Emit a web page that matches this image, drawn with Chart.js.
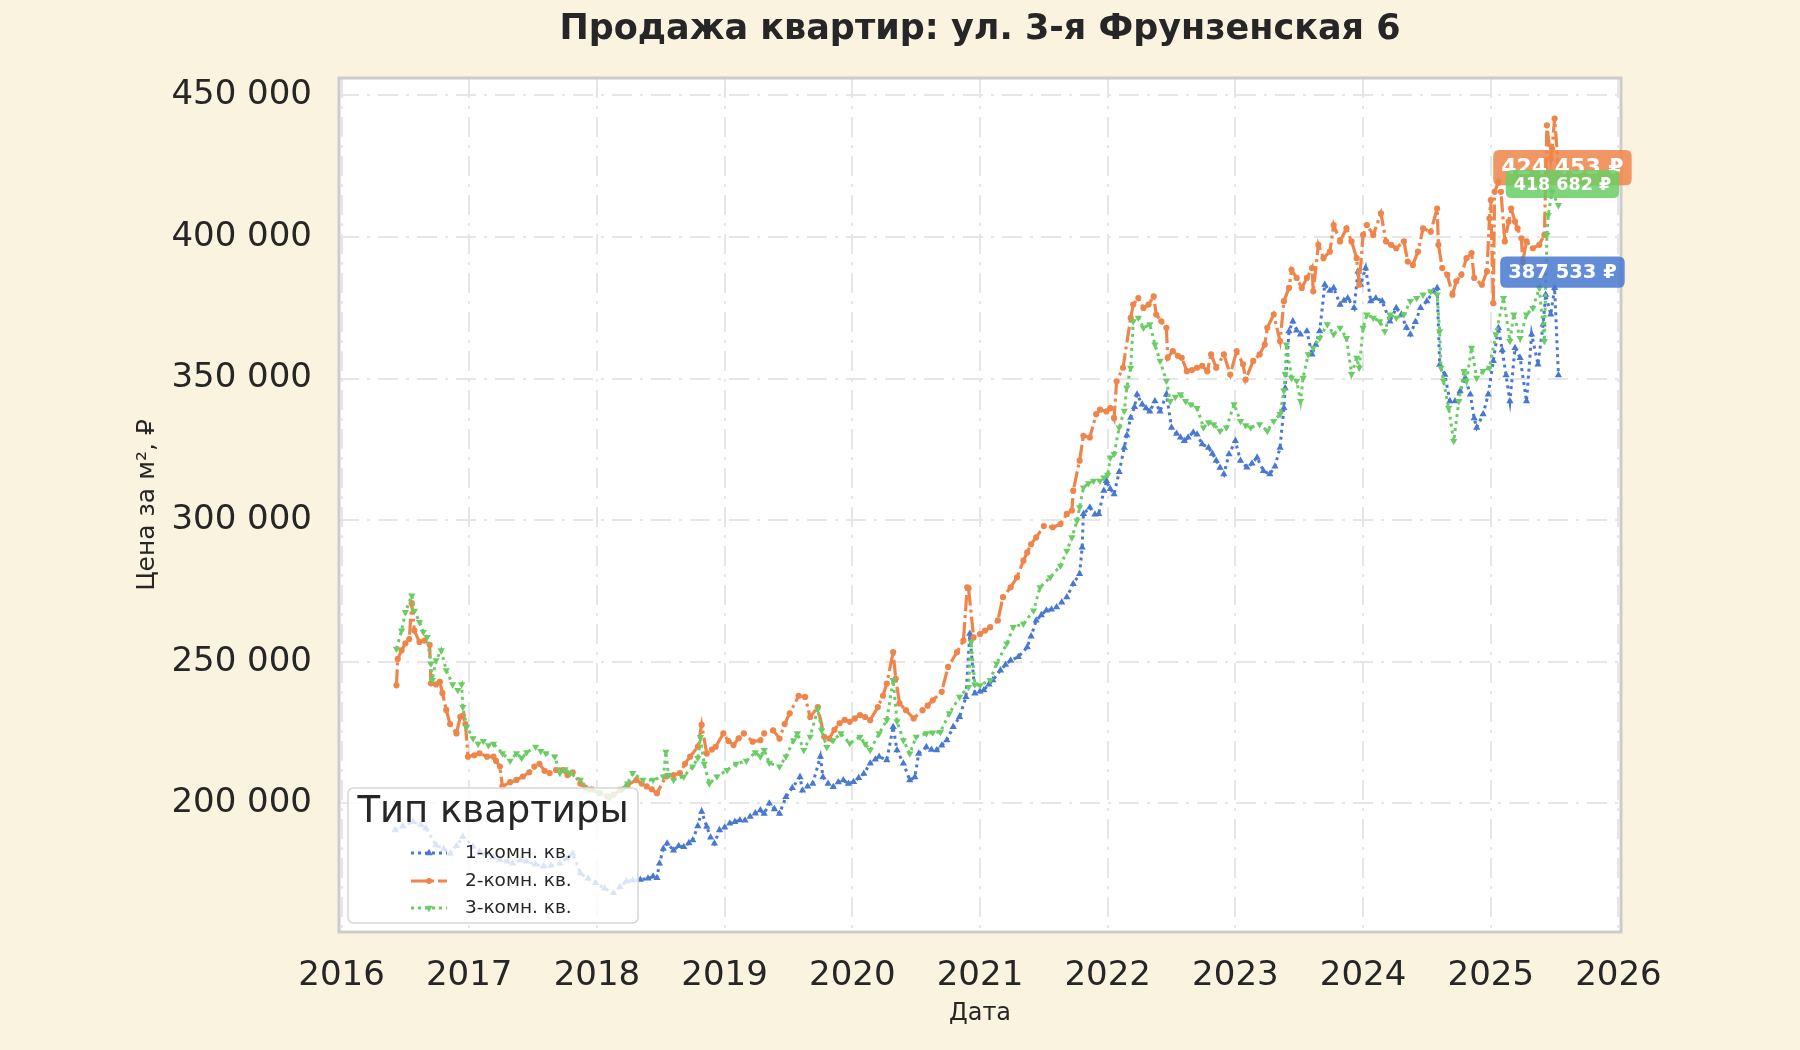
<!DOCTYPE html>
<html lang="ru">
<head>
    <meta charset="UTF-8">
    <title>Продажа квартир</title>
    <script src="https://cdn.jsdelivr.net/npm/chart.js"></script>
    <style>
        html, body { margin: 0; padding: 0; background: #faf3e0; }
        #wrap { width: 1800px; height: 1050px; }
    </style>
</head>
<body>
<div id="wrap"><canvas id="myChart" width="1800" height="1050"></canvas></div>
<script>
    // Значения (цена за м2 в тыс. руб.), даты как доли года
    const seriesNames = ['1-комн. кв.', '2-комн. кв.', '3-комн. кв.'];
    const seriesColors = ['#4878d0', '#ee854a', '#6acc64'];
    const lastLabelValues = [387533, 424453, 418682];
    const yearTicks = [2016, 2017, 2018, 2019, 2020, 2021, 2022, 2023, 2024, 2025, 2026];
    const priceTicks = [200, 250, 300, 350, 400, 450];

    const oneRoomYears = [
        2016.42, 2016.48, 2016.56, 2016.62, 2016.66, 2016.74, 2016.80, 2016.85, 2016.90, 2016.95,
        2017.03, 2017.08, 2017.13, 2017.19, 2017.24, 2017.30, 2017.34, 2017.40, 2017.45, 2017.52,
        2017.58, 2017.64, 2017.71, 2017.76, 2017.81, 2017.87, 2017.93, 2017.99, 2018.06, 2018.13,
        2018.18, 2018.23, 2018.28, 2018.34, 2018.40, 2018.44, 2018.47, 2018.49, 2018.52, 2018.55,
        2018.60, 2018.64, 2018.68, 2018.72, 2018.75, 2018.79, 2018.82, 2018.86, 2018.89, 2018.92,
        2018.96, 2019.00, 2019.04, 2019.08, 2019.12, 2019.16, 2019.20, 2019.24, 2019.28, 2019.31,
        2019.35, 2019.39, 2019.43, 2019.48, 2019.53, 2019.59, 2019.61, 2019.65, 2019.69, 2019.75,
        2019.77, 2019.81, 2019.85, 2019.89, 2019.93, 2019.97, 2020.01, 2020.05, 2020.09, 2020.14,
        2020.18, 2020.21, 2020.27, 2020.32, 2020.35, 2020.40, 2020.45, 2020.49, 2020.52, 2020.58,
        2020.62, 2020.66, 2020.70, 2020.74, 2020.79, 2020.84, 2020.89, 2020.92, 2020.96, 2021.00,
        2021.03, 2021.07, 2021.10, 2021.16, 2021.20, 2021.24, 2021.30, 2021.37, 2021.40, 2021.44,
        2021.48, 2021.52, 2021.56, 2021.60, 2021.64, 2021.68, 2021.73, 2021.78, 2021.80, 2021.81,
        2021.86, 2021.90, 2021.93, 2021.97, 2021.99, 2022.02, 2022.05, 2022.09, 2022.13, 2022.15,
        2022.18, 2022.21, 2022.23, 2022.27, 2022.30, 2022.33, 2022.37, 2022.41, 2022.46, 2022.50,
        2022.54, 2022.57, 2022.60, 2022.63, 2022.67, 2022.70, 2022.74, 2022.79, 2022.82, 2022.85,
        2022.88, 2022.91, 2022.95, 2023.00, 2023.04, 2023.09, 2023.13, 2023.17, 2023.22, 2023.27,
        2023.31, 2023.35, 2023.38, 2023.39, 2023.42, 2023.45, 2023.48, 2023.51, 2023.56, 2023.60,
        2023.63, 2023.66, 2023.70, 2023.74, 2023.77, 2023.82, 2023.85, 2023.88, 2023.93, 2023.96,
        2023.98, 2024.02, 2024.06, 2024.10, 2024.15, 2024.21, 2024.26, 2024.30, 2024.34, 2024.37,
        2024.41, 2024.45, 2024.50, 2024.55, 2024.58, 2024.60, 2024.64, 2024.68, 2024.72, 2024.76,
        2024.80, 2024.84, 2024.87, 2024.89, 2024.94, 2024.98, 2025.02, 2025.06, 2025.09, 2025.12,
        2025.15, 2025.19, 2025.23, 2025.28, 2025.32, 2025.37, 2025.41, 2025.43, 2025.47, 2025.50,
        2025.53
    ];
    const oneRoomPrices = [
        190.6, 192.0, 193.5, 192.5, 191.3, 185.3, 184.0, 182.3, 185.0, 188.3,
        184.8, 183.0, 182.3, 181.0, 180.1, 179.5, 178.8, 180.0, 179.5, 178.5,
        177.8, 178.0, 178.8, 180.5, 182.3, 175.4, 173.5, 171.9, 170.0, 168.4,
        170.5, 172.5, 172.8, 173.1, 173.5, 174.2, 173.7, 178.8, 184.0, 185.9,
        183.4, 185.0, 184.6, 186.0, 187.0, 192.0, 197.1, 191.8, 188.0, 185.9,
        190.6, 191.5, 192.9, 193.5, 194.1, 194.0, 195.3, 196.5, 197.6, 196.4,
        200.0, 198.0, 196.4, 202.3, 205.5, 209.3, 204.6, 206.0, 207.0, 216.5,
        209.3, 207.0, 205.8, 207.5, 208.2, 207.0, 207.6, 209.0, 210.5, 214.1,
        215.5, 216.5, 215.3, 227.0, 218.8, 214.1, 208.2, 209.3, 217.6, 219.9,
        219.0, 218.8, 220.5, 222.3, 227.0, 230.5, 237.6, 259.9, 238.8, 239.5,
        240.0, 242.0, 243.5, 247.0, 249.0, 250.5, 251.7, 255.2, 259.0, 264.6,
        266.5, 268.1, 268.5, 269.3, 271.0, 272.8, 277.5, 281.0, 290.4, 302.2,
        304.5, 302.0, 302.2, 310.4, 313.9, 311.0, 309.2, 317.0, 325.6, 330.0,
        336.2, 340.0, 344.4, 340.9, 339.5, 338.4, 342.0, 338.4, 344.4, 332.7,
        330.5, 329.2, 328.0, 329.2, 331.0, 330.3, 326.8, 325.6, 323.5, 321.0,
        318.5, 316.2, 323.3, 328.0, 321.0, 318.6, 320.0, 322.1, 317.4, 316.2,
        319.0, 325.6, 339.6, 346.6, 366.7, 370.2, 367.0, 365.6, 366.7, 358.5,
        362.0, 366.7, 383.1, 381.0, 382.0, 376.1, 377.5, 378.4, 374.9, 387.8,
        383.1, 389.0, 377.3, 378.4, 377.3, 370.2, 374.9, 372.6, 368.0, 365.6,
        370.0, 374.9, 377.3, 380.8, 382.0, 354.9, 351.4, 342.0, 342.0, 345.5,
        350.2, 344.4, 336.0, 332.7, 337.4, 344.4, 356.2, 367.9, 360.0, 351.2,
        342.0, 360.8, 357.3, 342.0, 365.6, 355.0, 369.1, 379.6, 372.6, 382.0,
        351.2
    ];

    const twoRoomYears = [
        2016.43, 2016.44, 2016.47, 2016.50, 2016.53, 2016.55, 2016.57, 2016.61, 2016.65, 2016.69,
        2016.70, 2016.74, 2016.77, 2016.79, 2016.82, 2016.85, 2016.90, 2016.93, 2016.95, 2016.97,
        2016.99, 2017.04, 2017.08, 2017.14, 2017.19, 2017.21, 2017.24, 2017.26, 2017.32, 2017.37,
        2017.42, 2017.47, 2017.51, 2017.55, 2017.59, 2017.63, 2017.68, 2017.73, 2017.77, 2017.81,
        2017.87, 2017.91, 2017.96, 2018.02, 2018.08, 2018.13, 2018.18, 2018.24, 2018.31, 2018.35,
        2018.39, 2018.43, 2018.47, 2018.54, 2018.60, 2018.65, 2018.69, 2018.73, 2018.79, 2018.82,
        2018.86, 2018.90, 2018.93, 2018.99, 2019.03, 2019.07, 2019.11, 2019.15, 2019.22, 2019.28,
        2019.31, 2019.38, 2019.43, 2019.47, 2019.51, 2019.58, 2019.63, 2019.67, 2019.73, 2019.78,
        2019.82, 2019.86, 2019.90, 2019.94, 2019.98, 2020.02, 2020.06, 2020.10, 2020.14, 2020.20,
        2020.24, 2020.27, 2020.32, 2020.34, 2020.37, 2020.42, 2020.48, 2020.55, 2020.59, 2020.63,
        2020.70, 2020.75, 2020.82, 2020.87, 2020.90, 2020.91, 2020.95, 2021.00, 2021.04, 2021.08,
        2021.14, 2021.18, 2021.24, 2021.29, 2021.34, 2021.37, 2021.40, 2021.44, 2021.50, 2021.57,
        2021.63, 2021.68, 2021.72, 2021.73, 2021.78, 2021.81, 2021.86, 2021.91, 2021.94, 2021.99,
        2022.02, 2022.05, 2022.07, 2022.12, 2022.18, 2022.20, 2022.24, 2022.28, 2022.32, 2022.36,
        2022.38, 2022.42, 2022.46, 2022.47, 2022.51, 2022.55, 2022.58, 2022.62, 2022.66, 2022.70,
        2022.74, 2022.78, 2022.81, 2022.85, 2022.91, 2022.96, 2023.01, 2023.06, 2023.08, 2023.14,
        2023.19, 2023.23, 2023.25, 2023.30, 2023.35, 2023.38, 2023.42, 2023.44, 2023.48, 2023.52,
        2023.56, 2023.60, 2023.61, 2023.65, 2023.69, 2023.74, 2023.77, 2023.82, 2023.87, 2023.91,
        2023.95, 2023.97, 2024.00, 2024.03, 2024.08, 2024.14, 2024.18, 2024.22, 2024.26, 2024.32,
        2024.35, 2024.39, 2024.43, 2024.47, 2024.53, 2024.58, 2024.59, 2024.62, 2024.66, 2024.70,
        2024.73, 2024.77, 2024.81, 2024.85, 2024.87, 2024.93, 2024.97, 2024.99, 2025.00, 2025.02,
        2025.03, 2025.06, 2025.08, 2025.11, 2025.14, 2025.16, 2025.19, 2025.21, 2025.24, 2025.25,
        2025.28, 2025.33, 2025.38, 2025.42, 2025.44, 2025.47, 2025.48, 2025.50, 2025.53
    ];
    const twoRoomPrices = [
        241.7, 251.0, 254.0, 256.5, 258.0, 270.7, 261.0, 257.0, 257.5, 256.0,
        242.4, 242.0, 242.9, 239.0, 233.0, 228.0, 224.7, 230.6, 231.0, 228.0,
        216.5, 217.0, 217.7, 216.5, 216.5, 215.0, 213.0, 206.0, 207.5, 208.3,
        209.5, 211.0, 213.0, 214.0, 211.5, 210.7, 211.8, 211.8, 210.0, 211.0,
        207.0, 205.5, 205.0, 203.7, 202.5, 203.0, 204.8, 206.5, 208.3, 207.0,
        206.0, 205.0, 203.6, 209.5, 210.0, 210.7, 214.0, 216.5, 220.0, 227.7,
        217.6, 219.0, 220.0, 224.7, 222.0, 220.6, 223.0, 224.7, 221.8, 222.3,
        224.7, 225.8, 222.9, 228.0, 231.8, 238.0, 237.6, 230.5, 234.0, 223.5,
        222.9, 226.0, 228.3, 229.5, 228.8, 230.0, 231.2, 230.5, 229.4, 234.0,
        238.0, 242.3, 253.4, 244.0, 235.3, 232.9, 230.0, 232.9, 234.5, 236.4,
        239.4, 248.2, 253.4, 257.5, 276.3, 276.0, 258.6, 259.8, 261.0, 262.2,
        264.6, 272.8, 276.3, 279.8, 285.7, 288.6, 291.5, 293.9, 297.9, 297.5,
        298.6, 302.2, 303.4, 310.4, 321.0, 329.8, 329.2, 337.4, 339.0, 338.4,
        339.6, 336.0, 349.0, 353.8, 371.4, 376.1, 378.4, 374.9, 376.1, 379.0,
        372.6, 370.2, 367.9, 357.3, 359.7, 358.0, 357.3, 352.6, 353.0, 353.8,
        354.5, 352.6, 358.5, 353.8, 358.5, 351.4, 359.7, 355.0, 349.6, 356.2,
        358.5, 362.0, 367.9, 372.6, 363.2, 377.3, 382.0, 388.4, 385.5, 382.0,
        385.5, 389.0, 380.8, 397.2, 392.5, 394.8, 404.2, 398.4, 403.0, 398.4,
        392.5, 383.1, 400.7, 404.2, 400.7, 408.3, 398.4, 397.2, 396.0, 398.4,
        391.3, 390.1, 394.8, 403.0, 401.8, 410.0, 397.2, 389.0, 386.6, 379.6,
        384.3, 386.6, 392.5, 394.3, 385.5, 383.1, 387.8, 406.5, 413.0, 376.6,
        415.9, 419.4, 415.9, 398.4, 405.4, 410.0, 405.4, 403.0, 399.5, 391.3,
        398.4, 396.0, 397.2, 400.7, 439.4, 427.6, 431.2, 441.8, 424.5
    ];

    const threeRoomYears = [
        2016.43, 2016.47, 2016.50, 2016.55, 2016.57, 2016.61, 2016.64, 2016.67, 2016.70, 2016.71,
        2016.74, 2016.78, 2016.82, 2016.87, 2016.91, 2016.94, 2016.95, 2016.98, 2017.03, 2017.07,
        2017.11, 2017.15, 2017.19, 2017.26, 2017.32, 2017.37, 2017.41, 2017.45, 2017.52, 2017.56,
        2017.60, 2017.67, 2017.71, 2017.75, 2017.79, 2017.87, 2017.93, 2018.02, 2018.10, 2018.20,
        2018.24, 2018.28, 2018.36, 2018.44, 2018.52, 2018.54, 2018.56, 2018.60, 2018.68, 2018.75,
        2018.79, 2018.81, 2018.84, 2018.88, 2018.94, 2019.02, 2019.09, 2019.17, 2019.24, 2019.28,
        2019.31, 2019.35, 2019.43, 2019.48, 2019.54, 2019.57, 2019.62, 2019.67, 2019.73, 2019.76,
        2019.80, 2019.85, 2019.91, 2019.98, 2020.06, 2020.10, 2020.14, 2020.21, 2020.27, 2020.32,
        2020.35, 2020.40, 2020.45, 2020.50, 2020.58, 2020.63, 2020.69, 2020.76, 2020.84, 2020.91,
        2020.93, 2020.96, 2021.00, 2021.08, 2021.13, 2021.21, 2021.26, 2021.34, 2021.42, 2021.47,
        2021.55, 2021.63, 2021.68, 2021.72, 2021.76, 2021.78, 2021.81, 2021.85, 2021.89, 2021.94,
        2021.97, 2022.00, 2022.02, 2022.05, 2022.09, 2022.13, 2022.15, 2022.18, 2022.20, 2022.24,
        2022.28, 2022.33, 2022.37, 2022.41, 2022.46, 2022.49, 2022.53, 2022.57, 2022.61, 2022.65,
        2022.70, 2022.75, 2022.79, 2022.83, 2022.88, 2022.93, 2022.99, 2023.04, 2023.08, 2023.12,
        2023.19, 2023.25, 2023.30, 2023.35, 2023.38, 2023.39, 2023.40, 2023.44, 2023.48, 2023.51,
        2023.53, 2023.57, 2023.61, 2023.66, 2023.72, 2023.77, 2023.82, 2023.87, 2023.91, 2023.95,
        2023.97, 2024.00, 2024.03, 2024.08, 2024.13, 2024.17, 2024.21, 2024.26, 2024.32, 2024.37,
        2024.42, 2024.47, 2024.53, 2024.58, 2024.60, 2024.61, 2024.63, 2024.67, 2024.71, 2024.75,
        2024.79, 2024.81, 2024.85, 2024.89, 2024.94, 2024.99, 2025.04, 2025.10, 2025.15, 2025.18,
        2025.23, 2025.28, 2025.33, 2025.38, 2025.42, 2025.44, 2025.45, 2025.48, 2025.53
    ];
    const threeRoomPrices = [
        254.6, 261.0, 267.5, 273.4, 268.0, 264.0, 260.5, 258.7, 249.4, 243.5,
        250.5, 254.0, 247.0, 242.0, 240.0, 242.0, 234.0, 227.0, 223.0, 221.0,
        222.0, 220.5, 221.0, 217.7, 215.0, 217.7, 216.0, 218.0, 220.0, 218.5,
        217.7, 216.5, 210.7, 212.0, 210.7, 208.3, 205.0, 203.7, 202.0, 205.0,
        207.0, 210.7, 208.3, 208.3, 209.5, 218.2, 210.0, 208.3, 209.5, 213.0,
        216.0, 223.4, 214.0, 207.0, 209.5, 211.8, 214.0, 215.0, 218.0, 216.5,
        218.8, 214.3, 213.0, 216.5, 222.3, 224.7, 218.8, 223.5, 233.4, 225.8,
        219.9, 222.3, 224.7, 221.2, 223.5, 221.0, 218.8, 224.7, 229.4, 243.5,
        229.0, 222.3, 217.6, 223.5, 224.7, 225.0, 225.2, 231.8, 237.6, 241.1,
        257.0, 242.0, 241.7, 243.5, 249.4, 256.4, 262.2, 263.4, 268.1, 276.3,
        279.8, 283.9, 289.2, 293.9, 299.8, 304.5, 311.5, 313.0, 313.9, 313.9,
        315.0, 316.0, 322.1, 323.3, 332.7, 338.6, 346.8, 353.8, 370.2, 371.4,
        367.9, 369.1, 362.0, 356.2, 349.2, 342.0, 343.5, 344.4, 342.0, 340.9,
        339.6, 332.7, 334.5, 333.8, 331.5, 332.7, 340.9, 335.0, 333.5, 332.7,
        333.8, 331.5, 335.0, 337.4, 345.7, 351.6, 362.0, 350.2, 349.2, 342.0,
        350.2, 358.5, 360.8, 364.3, 369.1, 365.6, 367.9, 364.3, 351.6, 357.3,
        353.8, 367.9, 372.6, 371.4, 370.2, 366.7, 372.6, 371.4, 372.6, 377.3,
        378.4, 379.6, 380.8, 379.6, 366.7, 353.8, 349.2, 339.6, 327.9, 342.0,
        352.6, 349.2, 360.8, 350.2, 352.6, 353.8, 365.6, 378.4, 363.2, 372.6,
        364.3, 372.6, 374.9, 382.0, 363.2, 400.7, 407.7, 415.9, 411.2
    ];

    const toPoints = (xs, ys) => xs.map((x, i) => ({x: x, y: ys[i]}));
    const fmtThousands = v => String(v).replace(/\B(?=(\d{3})+(?!\d))/g, ' ');
    const TEXT = '#262626';

    Chart.defaults.font.family = "'DejaVu Sans', sans-serif";
    Chart.defaults.color = TEXT;

    // фон холста и белая область графика
    const backgroundPlugin = {
        id: 'bg',
        beforeDraw(chart) {
            const {ctx, chartArea: a} = chart;
            ctx.save();
            ctx.fillStyle = '#faf3e0';
            ctx.fillRect(0, 0, chart.width, chart.height);
            ctx.fillStyle = '#ffffff';
            ctx.fillRect(a.left, a.top, a.right - a.left, a.bottom - a.top);
            ctx.restore();
        }
    };

    // рамка вокруг области графика
    const framePlugin = {
        id: 'frame',
        afterDatasetsDraw(chart) {
            const {ctx, chartArea: a} = chart;
            ctx.save();
            ctx.strokeStyle = '#cccccc';
            ctx.lineWidth = 3;
            ctx.strokeRect(a.left, a.top, a.right - a.left, a.bottom - a.top);
            ctx.restore();
        }
    };

    function roundRect(ctx, x, y, w, h, r) {
        ctx.beginPath();
        ctx.moveTo(x + r, y);
        ctx.lineTo(x + w - r, y);
        ctx.quadraticCurveTo(x + w, y, x + w, y + r);
        ctx.lineTo(x + w, y + h - r);
        ctx.quadraticCurveTo(x + w, y + h, x + w - r, y + h);
        ctx.lineTo(x + r, y + h);
        ctx.quadraticCurveTo(x, y + h, x, y + h - r);
        ctx.lineTo(x, y + r);
        ctx.quadraticCurveTo(x, y, x + r, y);
        ctx.closePath();
    }

    function marker(ctx, style, x, y, r, color) {
        ctx.fillStyle = color;
        ctx.beginPath();
        if (style === 'circle') {
            ctx.arc(x, y, r, 0, Math.PI * 2);
        } else {
            const d = style === 'triUp' ? 1 : -1;
            ctx.moveTo(x, y - d * r * 1.15);
            ctx.lineTo(x + r, y + d * r * 0.6);
            ctx.lineTo(x - r, y + d * r * 0.6);
            ctx.closePath();
        }
        ctx.fill();
    }

    // подписи последних значений справа
    const lastLabelPlugin = {
        id: 'lastLabels',
        afterDraw(chart) {
            const {ctx} = chart;
            const xs = chart.scales.x, ys = chart.scales.y;
            const sizes = [19.5, 22, 17.5];
            const drawOrder = [1, 2, 0];
            drawOrder.forEach(i => {
                const data = chart.data.datasets[i].data;
                const last = data[data.length - 1];
                const cx = xs.getPixelForValue(last.x) + 4;
                const cy = ys.getPixelForValue(lastLabelValues[i] / 1000);
                const text = fmtThousands(lastLabelValues[i]) + ' ₽';
                ctx.save();
                ctx.font = 'bold ' + sizes[i] + "px 'DejaVu Sans'";
                const w = ctx.measureText(text).width + 16;
                const h = sizes[i] * 1.6;
                ctx.globalAlpha = 0.85;
                ctx.fillStyle = seriesColors[i];
                roundRect(ctx, cx - w / 2, cy - h / 2, w, h, 6);
                ctx.fill();
                ctx.globalAlpha = 1;
                ctx.fillStyle = '#ffffff';
                ctx.textAlign = 'center';
                ctx.textBaseline = 'middle';
                ctx.fillText(text, cx, cy + 1);
                ctx.restore();
            });
        }
    };

    // легенда внутри области графика, слева внизу
    const legendPlugin = {
        id: 'boxLegend',
        afterDraw(chart) {
            const {ctx} = chart;
            const bx = 348, by = 788, bw = 290, bh = 135;
            ctx.save();
            ctx.fillStyle = 'rgba(255,255,255,0.8)';
            ctx.strokeStyle = '#d6d6d6';
            ctx.lineWidth = 1.5;
            roundRect(ctx, bx, by, bw, bh, 6);
            ctx.fill();
            ctx.stroke();

            ctx.fillStyle = TEXT;
            ctx.font = "37px 'DejaVu Sans'";
            ctx.textAlign = 'center';
            ctx.textBaseline = 'middle';
            ctx.fillText('Тип квартиры', bx + bw / 2, 812);

            const rows = [853, 881, 908];
            const dashes = [[3, 4], [16, 4, 3, 4], [3, 4]];
            const marks = ['triUp', 'circle', 'triDown'];
            seriesNames.forEach((name, i) => {
                const y = rows[i];
                ctx.strokeStyle = seriesColors[i];
                ctx.lineWidth = 3;
                ctx.setLineDash(dashes[i]);
                ctx.beginPath();
                ctx.moveTo(411, y);
                ctx.lineTo(447, y);
                ctx.stroke();
                ctx.setLineDash([]);
                marker(ctx, marks[i], 429, y, i === 1 ? 3 : 3.8, seriesColors[i]);
                ctx.fillStyle = TEXT;
                ctx.font = "18.5px 'DejaVu Sans'";
                ctx.textAlign = 'left';
                ctx.fillText(name, 465, y);
            });
            ctx.restore();
        }
    };

    const gridStyle = {
        color: '#e6e6e6',
        lineWidth: 2,
        drawTicks: false,
    };
    const gridDash = [20, 8, 3, 8];

    const config = {
        type: 'line',
        data: {
            datasets: [
                {
                    label: seriesNames[0],
                    data: toPoints(oneRoomYears, oneRoomPrices),
                    borderColor: seriesColors[0],
                    backgroundColor: seriesColors[0],
                    borderWidth: 3,
                    borderDash: [3, 4],
                    pointStyle: 'triangle',
                    pointRadius: 4.2,
                    pointBorderWidth: 0,
                    order: 2,
                },
                {
                    label: seriesNames[1],
                    data: toPoints(twoRoomYears, twoRoomPrices),
                    borderColor: seriesColors[1],
                    backgroundColor: seriesColors[1],
                    borderWidth: 3.2,
                    borderDash: [16, 4, 3, 4],
                    pointStyle: 'circle',
                    pointRadius: 3.1,
                    pointBorderWidth: 0,
                    order: 1,
                },
                {
                    label: seriesNames[2],
                    data: toPoints(threeRoomYears, threeRoomPrices),
                    borderColor: seriesColors[2],
                    backgroundColor: seriesColors[2],
                    borderWidth: 3,
                    borderDash: [3, 4],
                    pointStyle: 'triangle',
                    pointRotation: 180,
                    pointRadius: 4.2,
                    pointBorderWidth: 0,
                    order: 0,
                },
            ]
        },
        options: {
            responsive: false,
            animation: false,
            devicePixelRatio: 1,
            layout: { padding: { left: 0, right: 179, top: 0, bottom: 0 } },
            plugins: {
                legend: { display: false },
                tooltip: { enabled: false },
                title: {
                    display: true,
                    fullSize: false,
                    text: 'Продажа квартир: ул. 3-я Фрунзенская 6',
                    color: TEXT,
                    font: { size: 35, weight: 'bold' },
                    padding: { top: 9, bottom: 27 },
                },
            },
            scales: {
                x: {
                    type: 'linear',
                    min: 2015.98,
                    max: 2026.02,
                    grid: Object.assign({ borderDash: gridDash }, gridStyle),
                    border: { display: false, dash: gridDash },
                    afterBuildTicks(scale) {
                        scale.ticks = yearTicks.map(v => ({value: v}));
                    },
                    ticks: {
                        padding: 24,
                        font: { size: 34 },
                        color: TEXT,
                        callback: v => String(v),
                    },
                    title: {
                        display: true,
                        text: 'Дата',
                        color: TEXT,
                        font: { size: 24 },
                        padding: { top: 0, bottom: 22 },
                    },
                    afterFit(scale) { scale.height = 118; },
                },
                y: {
                    min: 154.6,
                    max: 456.1,
                    grid: gridStyle,
                    border: { display: false, dash: gridDash },
                    afterBuildTicks(scale) {
                        scale.ticks = priceTicks.map(v => ({value: v}));
                    },
                    ticks: {
                        padding: 27,
                        font: { size: 34 },
                        color: TEXT,
                        callback: v => v + ' 000',
                    },
                    title: {
                        display: true,
                        text: 'Цена за м², ₽',
                        color: TEXT,
                        font: { size: 25 },
                        padding: { top: 132, bottom: 0 },
                    },
                    afterFit(scale) { scale.width = 339; },
                },
            },
        },
        plugins: [backgroundPlugin, framePlugin, lastLabelPlugin, legendPlugin],
    };

    window.onload = function() {
        const ctx = document.getElementById('myChart').getContext('2d');
        new Chart(ctx, config);
    };
</script>
</body>
</html>
